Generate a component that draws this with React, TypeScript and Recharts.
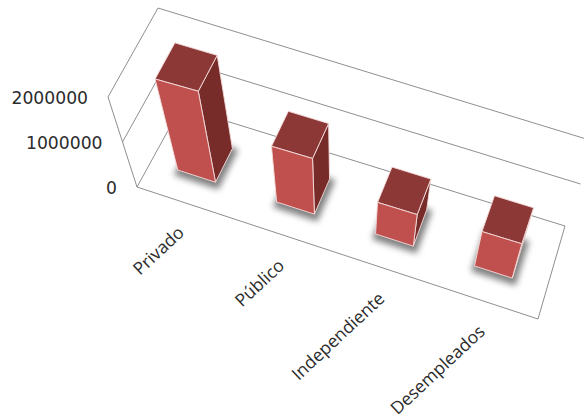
import { BarChart, Bar, XAxis, YAxis, CartesianGrid } from 'recharts'

const SECTORS = ['Privado', 'Público', 'Independiente', 'Desempleados']
const WORKERS = [1960000, 1200000, 680000, 740000]
const VALUE_TICKS = [0, 1000000, 2000000]

const rows = SECTORS.map((name, i) => ({ name, workers: WORKERS[i] }))

const WIDTH = 584
const HEIGHT = 419
const Y_AXIS_W = 60
const X_AXIS_H = 30
const PLOT_W = WIDTH - Y_AXIS_W
const PLOT_H = HEIGHT - X_AXIS_H

// corners of the 3D box on screen: floor front/back, then the same at full height
const FLOOR_FL = [137, 187]
const FLOOR_FR = [538, 319]
const FLOOR_BL = [181, 107]
const FLOOR_BR = [565, 226]
const TOP_FL = [108, 97]
const TOP_FR = [569, 222]
const TOP_BL = [158, 8]
const TOP_BR = [596, 142]

// bars sit between these two depths of the floor, nudged a little towards the value axis
const BAR_FRONT = 0.32
const BAR_BACK = 0.73
const BAR_NUDGE = -0.01

const mix = (a: number, b: number, t: number) => a + (b - a) * t

// u along categories, w into the depth, v up the value axis
function project(u: number, w: number, v: number): [number, number] {
  const at = (k: number) => {
    const floor = mix(mix(FLOOR_FL[k], FLOOR_FR[k], u), mix(FLOOR_BL[k], FLOOR_BR[k], u), w)
    const top = mix(mix(TOP_FL[k], TOP_FR[k], u), mix(TOP_BL[k], TOP_BR[k], u), w)
    return mix(floor, top, v)
  }
  return [at(0), at(1)]
}

const flatU = (x: number) => (x - Y_AXIS_W) / PLOT_W
const flatV = (y: number) => (PLOT_H - y) / PLOT_H

const pts = (list: [number, number][]) => list.map((p) => p.join(',')).join(' ')

function Box(props: any) {
  const { x, y, width, height } = props
  const u0 = flatU(x) + BAR_NUDGE
  const u1 = flatU(x + width) + BAR_NUDGE
  const v = flatV(y)
  const v0 = flatV(y + height)

  const base = [
    project(u0, BAR_FRONT, v0),
    project(u1, BAR_FRONT, v0),
    project(u1, BAR_BACK, v0),
    project(u0, BAR_BACK, v0),
  ] as [number, number][]
  const head = [
    project(u0, BAR_FRONT, v),
    project(u1, BAR_FRONT, v),
    project(u1, BAR_BACK, v),
    project(u0, BAR_BACK, v),
  ] as [number, number][]

  const edge = { stroke: '#f4dcdb', strokeWidth: 0.9, strokeLinejoin: 'round' as const }

  return (
    <g>
      <polygon
        points={pts(base)}
        fill="#808080"
        stroke="#808080"
        strokeWidth={7}
        transform="translate(1 3)"
        style={{ filter: 'blur(3px)' }}
      />
      <polygon points={pts([head[1], head[2], base[2], base[1]])} fill="#772c2a" {...edge} />
      <polygon points={pts(head)} fill="#8c3836" {...edge} />
      <polygon points={pts([head[0], head[1], base[1], base[0]])} fill="#c0504d" {...edge} />
    </g>
  )
}

function WallLine(props: any) {
  const v = flatV(props.y1)
  const line = { fill: 'none', stroke: '#8f8f8f', strokeWidth: 1 }
  return (
    <g key={props.key}>
      <polyline points={pts([project(0, 0, v), project(0, 1, v), project(1, 1, v)])} {...line} />
      {v < 0.01 && (
        <>
          <polyline points={pts([project(0, 0, 0), project(1, 0, 0), project(1, 1, 0)])} {...line} />
          <polyline points={pts([project(0, 0, 0), project(0, 0, 1)])} {...line} />
        </>
      )}
    </g>
  )
}

function CategoryTick({ x, payload }: any) {
  const [px, py] = project(flatU(x), 0, 0)
  const ax = px - 6
  const ay = py + 26
  return (
    <text
      x={ax}
      y={ay}
      dy="0.35em"
      textAnchor="end"
      transform={`rotate(-43 ${ax} ${ay})`}
      fontFamily="'Open Sans', sans-serif"
      fontSize={17.5}
      fill="#2b2b2b"
    >
      {payload.value}
    </text>
  )
}

function ValueTick({ y, payload }: any) {
  const [px, py] = project(0, 0, flatV(y))
  return (
    <text
      x={px - 20}
      y={py + 1}
      dy="0.35em"
      textAnchor="end"
      fontFamily="'DejaVu Sans', sans-serif"
      fontSize={17.2}
      fill="#2b2b2b"
    >
      {payload.value}
    </text>
  )
}

export default function App() {
  return (
    <div style={{ position: 'absolute', left: 0, top: 0, width: WIDTH, height: HEIGHT, background: '#fff' }}>
      <BarChart
        width={WIDTH}
        height={HEIGHT}
        data={rows}
        margin={{ top: 0, right: 0, bottom: 0, left: 0 }}
        barCategoryGap="31%"
      >
        <CartesianGrid vertical={false} horizontal={(p: any) => <WallLine {...p} />} syncWithTicks />
        <XAxis dataKey="name" height={X_AXIS_H} interval={0} axisLine={false} tickLine={false} tick={CategoryTick} />
        <YAxis
          width={Y_AXIS_W}
          domain={[0, 2000000]}
          ticks={VALUE_TICKS}
          interval={0}
          axisLine={false}
          tickLine={false}
          tick={ValueTick}
        />
        <Bar dataKey="workers" shape={Box} isAnimationActive={false} />
      </BarChart>
    </div>
  )
}
